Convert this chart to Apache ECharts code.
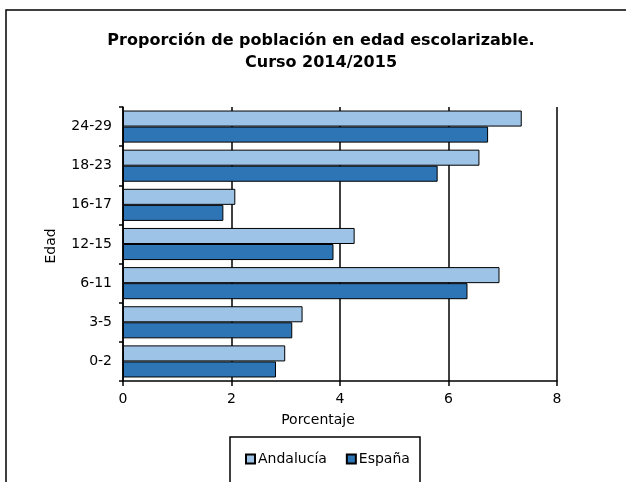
<!DOCTYPE html>
<html><head><meta charset="utf-8">
<script src="https://cdn.jsdelivr.net/npm/echarts@6/dist/echarts.min.js"></script>
<style>html,body{margin:0;padding:0;background:#fff}#c{width:626px;height:482px}</style>
</head><body><div id="c"></div>
<script>
const categories = ['0-2','3-5','6-11','12-15','16-17','18-23','24-29'];
const andalucia = [2.99, 3.31, 6.94, 4.27, 2.07, 6.57, 7.35];
const espana = [2.82, 3.12, 6.35, 3.88, 1.85, 5.80, 6.73];
const xTicks = [0, 2, 4, 6, 8];

const chart = echarts.init(document.getElementById('c'));
const font = 'DejaVu Sans, Verdana, sans-serif';
chart.setOption({
  animation: false,
  backgroundColor: '#fff',
  title: {
    text: 'Proporción de población en edad escolarizable.\nCurso 2014/2015',
    left: 321, top: 30, padding: 0, textAlign: 'center',
    textStyle: {fontFamily: font, fontSize: 16, fontWeight: 'bold', color: '#000', lineHeight: 22}
  },
  grid: {left: 123, right: 69, top: 107, bottom: 101},
  xAxis: {
    type: 'value', min: xTicks[0], max: xTicks[xTicks.length-1], interval: 2,
    axisLine: {show: true, lineStyle: {color: '#000', width: 1.5}},
    axisTick: {show: true, length: 5, lineStyle: {color: '#000', width: 1.5}},
    axisLabel: {color: '#000', fontFamily: font, fontSize: 14, margin: 11},
    splitLine: {show: true, lineStyle: {color: '#000', width: 1.5}}
  },
  yAxis: {
    type: 'category', data: categories,
    axisLine: {show: true, lineStyle: {color: '#000', width: 1.5}},
    axisTick: {show: true, length: 4, lineStyle: {color: '#000', width: 1.5}},
    axisLabel: {color: '#000', fontFamily: font, fontSize: 14, margin: 11},
    splitLine: {show: false}
  },
  legend: {
    data: ['Andalucía', 'España'],
    left: 245, top: 452, padding: 0,
    itemWidth: 9, itemHeight: 9, itemGap: 19,
    textStyle: {fontFamily: font, fontSize: 14, color: '#000', padding: [0,0,0,-2]},
    icon: 'rect'
  },
  series: [
    {name: 'Andalucía', type: 'bar', data: andalucia, barGap: '0%', barCategoryGap: '18%',
     itemStyle: {color: '#9DC3E6', borderColor: '#000', borderWidth: 1}},
    {name: 'España', type: 'bar', data: espana, barGap: '0%', barCategoryGap: '18%',
     itemStyle: {color: '#2E75B6', borderColor: '#000', borderWidth: 1}}
  ],
  graphic: [
    {type: 'rect', shape: {x: 6, y: 10, width: 640, height: 500}, style: {fill: 'none', stroke: '#000', lineWidth: 1.5}, z: -1},
    {type: 'rect', shape: {x: 230, y: 437, width: 190, height: 60}, style: {fill: 'none', stroke: '#000', lineWidth: 1.5}},
    {type: 'text', x: 318, y: 420, style: {text: 'Porcentaje', font: '14px DejaVu Sans, Verdana, sans-serif', fill: '#000', align: 'center', verticalAlign: 'middle'}},
    {type: 'text', x: 51, y: 246, rotation: Math.PI/2, style: {text: 'Edad', font: '14px DejaVu Sans, Verdana, sans-serif', fill: '#000', align: 'center', verticalAlign: 'middle'}}
  ]
});
</script></body></html>
